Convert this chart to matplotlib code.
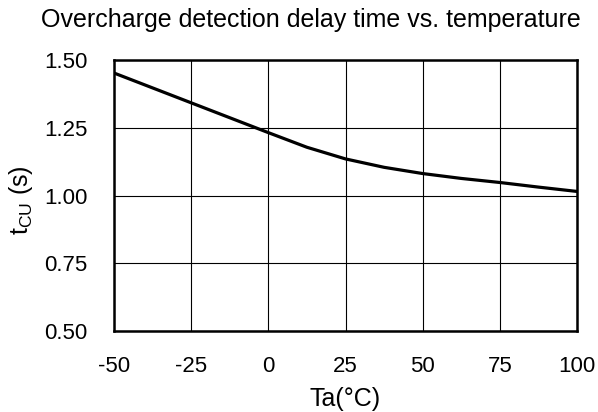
import numpy as np
import matplotlib
matplotlib.use("Agg")
import matplotlib.pyplot as plt

plt.rcParams['font.family'] = ['Liberation Sans', 'DejaVu Sans']
plt.rcParams['mathtext.fontset'] = 'custom'
plt.rcParams['mathtext.rm'] = 'Liberation Sans'

# temperature (degC) and overcharge detection delay time (s)
temp = [-50, -37.5, -25, -12.5, 0, 12.5, 25, 37.5, 50, 62.5, 75, 87.5, 100]
tcu = [1.452, 1.397, 1.342, 1.287, 1.232, 1.178, 1.135, 1.104, 1.081, 1.063, 1.048, 1.031, 1.015]

xticks = [-50, -25, 0, 25, 50, 75, 100]
yticks = [0.50, 0.75, 1.00, 1.25, 1.50]

W, H = 598, 412
fig = plt.figure(figsize=(W / 100, H / 100), dpi=100)
ax = fig.add_axes([114 / W, 1 - 331 / H, 463 / W, 271 / H])

ax.plot(temp, tcu, color='black', lw=2.3, zorder=3)

ax.set_xlim(-50, 100)
ax.set_ylim(0.5, 1.5)
ax.set_xticks(xticks)
ax.set_yticks(yticks)
ax.set_xticklabels([str(t) for t in xticks])
ax.set_yticklabels(['%.2f' % v for v in yticks])
ax.tick_params(length=0, labelsize=16)
ax.tick_params(axis='x', pad=18)
ax.tick_params(axis='y', pad=19)
ax.grid(True, color='black', lw=0.8)

for s in ax.spines.values():
    s.set_linewidth(1.8)
    s.set_zorder(4)

fig.text(345 / W, 1 - 406 / H, 'Ta(°C)', ha='center', va='baseline', fontsize=18)
fig.text(21 / W, 1 - 200 / H, r'$\mathregular{t_{CU}}$ (s)', ha='center', va='center',
         rotation=90, fontsize=18)
fig.text(311 / W, 1 - 27 / H, 'Overcharge detection delay time vs. temperature',
         ha='center', va='baseline', fontsize=18)

fig.savefig('out.png', dpi=100)
